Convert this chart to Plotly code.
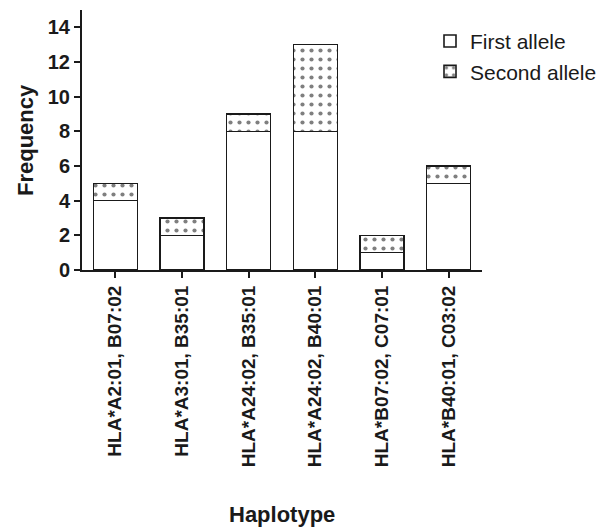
import plotly.graph_objects as go

haplotypes = [
    "HLA*A2:01, B07:02",
    "HLA*A3:01, B35:01",
    "HLA*A24:02, B35:01",
    "HLA*A24:02, B40:01",
    "HLA*B07:02, C07:01",
    "HLA*B40:01, C03:02",
]
first_allele = [4, 2, 8, 8, 1, 5]
second_allele = [1, 1, 1, 5, 1, 1]
y_ticks = [0, 2, 4, 6, 8, 10, 12, 14]

FONT = "Liberation Sans, Arial, sans-serif"
INK = "#1a1a1a"

fig = go.Figure()
fig.add_trace(go.Bar(
    x=haplotypes, y=first_allele, name="First allele",
    width=0.66,
    marker=dict(color="white", line=dict(color=INK, width=1.6)),
))
fig.add_trace(go.Bar(
    x=haplotypes, y=second_allele, name="Second allele",
    width=0.66,
    marker=dict(
        color="white",
        line=dict(color=INK, width=1.6),
        pattern=dict(shape=".", fgcolor="black", bgcolor="white",
                     size=9, solidity=0.17, fillmode="overlay"),
    ),
))

fig.update_layout(
    barmode="stack",
    width=603, height=531,
    margin=dict(l=82, r=121, t=10, b=261, autoexpand=False),
    paper_bgcolor="white", plot_bgcolor="white",
    font=dict(family=FONT, color=INK),
    showlegend=True,
    legend=dict(
        x=0.87, y=0.958, xanchor="left", yanchor="top",
        font=dict(size=21, family=FONT, color=INK),
        bgcolor="rgba(0,0,0,0)", itemwidth=30, tracegroupgap=0,
        traceorder="normal",
    ),
    xaxis=dict(
        range=[-0.5, 5.5], showline=True, linecolor=INK, linewidth=2,
        ticks="outside", ticklen=6, tickwidth=1.6, tickcolor=INK,
        tickangle=-90, tickfont=dict(size=19, family=FONT, color=INK, weight="bold"),
        showgrid=False, zeroline=False, automargin=False,
    ),
    yaxis=dict(
        range=[0, 15], tickvals=y_ticks, showline=True, linecolor=INK, linewidth=2,
        ticks="outside", ticklen=6, tickwidth=1.6, tickcolor=INK,
        tickfont=dict(size=20, family=FONT, color=INK, weight="bold"),
        showgrid=False, zeroline=False, automargin=False,
    ),
    annotations=[
        dict(text="<b>Frequency</b>", x=-0.1425, y=0.5, xref="paper", yref="paper",
             xanchor="center", yanchor="middle",
             showarrow=False, textangle=-90, font=dict(size=22, family=FONT, color=INK)),
        dict(text="<b>Haplotype</b>", x=0.5, y=-0.94, xref="paper", yref="paper",
             xanchor="center", yanchor="middle",
             showarrow=False, font=dict(size=22, family=FONT, color=INK)),
    ],
)

fig.write_html("out.html")
